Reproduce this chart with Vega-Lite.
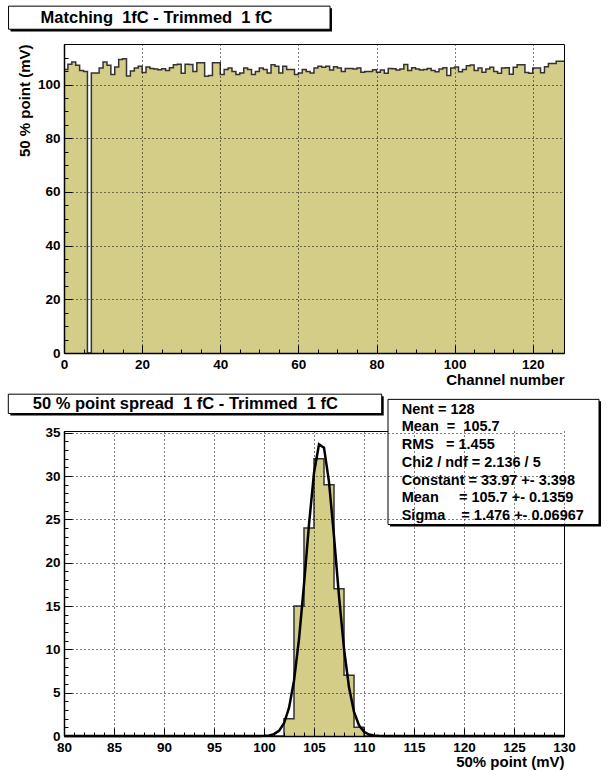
{
  "$schema": "https://vega.github.io/schema/vega-lite/v6.json",
  "autosize": {"type": "pad"},
  "padding": {"left": 7, "top": 5, "right": 5, "bottom": 2},
  "background": "white",
  "spacing": 78,
  "bounds": "flush",
  "config": {
    "font": "Liberation Sans",
    "view": {"stroke": "black", "strokeWidth": 1},
    "axis": {
      "labelFont": "Liberation Sans", "labelFontWeight": "bold", "labelFontSize": 13.5, "labelColor": "black",
      "titleFont": "Liberation Sans", "titleFontWeight": "bold", "titleFontSize": 15, "titleColor": "black",
      "domainColor": "black", "domainWidth": 1.5, "tickColor": "black", "tickSize": -8, "tickWidth": 1,
      "gridColor": "black", "gridDash": [1, 3], "gridWidth": 1, "gridOpacity": 1, "labelPadding": 12, "labelOverlap": false
    }
  },
  "datasets": {
    "channels": [
      {"channel": 0, "v": 105.6}, {"channel": 1, "v": 107.6}, {"channel": 2, "v": 108.4}, {"channel": 3, "v": 107.2},
      {"channel": 4, "v": 105.2}, {"channel": 5, "v": 104.9}, {"channel": 6, "v": 0}, {"channel": 7, "v": 104.3},
      {"channel": 8, "v": 104.3}, {"channel": 9, "v": 106.2}, {"channel": 10, "v": 108.4}, {"channel": 11, "v": 107.2},
      {"channel": 12, "v": 103.7}, {"channel": 13, "v": 106.5}, {"channel": 14, "v": 109.3}, {"channel": 15, "v": 109.6},
      {"channel": 16, "v": 103.2}, {"channel": 17, "v": 105.0}, {"channel": 18, "v": 106.2}, {"channel": 19, "v": 106.8},
      {"channel": 20, "v": 104.5}, {"channel": 21, "v": 106.5}, {"channel": 22, "v": 106.0}, {"channel": 23, "v": 105.8},
      {"channel": 24, "v": 105.5}, {"channel": 25, "v": 105.9}, {"channel": 26, "v": 105.2}, {"channel": 27, "v": 106.3},
      {"channel": 28, "v": 107.4}, {"channel": 29, "v": 107.6}, {"channel": 30, "v": 104.2}, {"channel": 31, "v": 107.6},
      {"channel": 32, "v": 107.5}, {"channel": 33, "v": 104.9}, {"channel": 34, "v": 108.1}, {"channel": 35, "v": 108.1},
      {"channel": 36, "v": 103.1}, {"channel": 37, "v": 103.4}, {"channel": 38, "v": 108.1}, {"channel": 39, "v": 108.1},
      {"channel": 40, "v": 103.7}, {"channel": 41, "v": 105.6}, {"channel": 42, "v": 106.2}, {"channel": 43, "v": 104.9},
      {"channel": 44, "v": 103.7}, {"channel": 45, "v": 104.3}, {"channel": 46, "v": 106.2}, {"channel": 47, "v": 105.6},
      {"channel": 48, "v": 103.7}, {"channel": 49, "v": 104.9}, {"channel": 50, "v": 106.2}, {"channel": 51, "v": 105.6},
      {"channel": 52, "v": 104.3}, {"channel": 53, "v": 107.4}, {"channel": 54, "v": 106.8}, {"channel": 55, "v": 104.3},
      {"channel": 56, "v": 106.8}, {"channel": 57, "v": 105.6}, {"channel": 58, "v": 105.6}, {"channel": 59, "v": 103.7},
      {"channel": 60, "v": 104.3}, {"channel": 61, "v": 105.6}, {"channel": 62, "v": 104.9}, {"channel": 63, "v": 104.3},
      {"channel": 64, "v": 106.2}, {"channel": 65, "v": 106.8}, {"channel": 66, "v": 106.4}, {"channel": 67, "v": 106.8},
      {"channel": 68, "v": 105.4}, {"channel": 69, "v": 106.6}, {"channel": 70, "v": 106.2}, {"channel": 71, "v": 104.9},
      {"channel": 72, "v": 106.0}, {"channel": 73, "v": 106.0}, {"channel": 74, "v": 105.8}, {"channel": 75, "v": 106.2},
      {"channel": 76, "v": 104.6}, {"channel": 77, "v": 104.9}, {"channel": 78, "v": 104.9}, {"channel": 79, "v": 105.5},
      {"channel": 80, "v": 104.6}, {"channel": 81, "v": 105.4}, {"channel": 82, "v": 104.2}, {"channel": 83, "v": 106.0},
      {"channel": 84, "v": 105.9}, {"channel": 85, "v": 105.4}, {"channel": 86, "v": 105.8}, {"channel": 87, "v": 107.5},
      {"channel": 88, "v": 105.2}, {"channel": 89, "v": 106.3}, {"channel": 90, "v": 105.8}, {"channel": 91, "v": 105.4},
      {"channel": 92, "v": 105.6}, {"channel": 93, "v": 106.0}, {"channel": 94, "v": 105.2}, {"channel": 95, "v": 104.8},
      {"channel": 96, "v": 105.8}, {"channel": 97, "v": 106.3}, {"channel": 98, "v": 103.4}, {"channel": 99, "v": 106.2},
      {"channel": 100, "v": 106.5}, {"channel": 101, "v": 104.8}, {"channel": 102, "v": 105.6}, {"channel": 103, "v": 107.0},
      {"channel": 104, "v": 107.3}, {"channel": 105, "v": 105.2}, {"channel": 106, "v": 106.2}, {"channel": 107, "v": 104.6},
      {"channel": 108, "v": 105.8}, {"channel": 109, "v": 106.4}, {"channel": 110, "v": 104.9}, {"channel": 111, "v": 104.2},
      {"channel": 112, "v": 106.2}, {"channel": 113, "v": 106.3}, {"channel": 114, "v": 103.8}, {"channel": 115, "v": 106.4},
      {"channel": 116, "v": 107.4}, {"channel": 117, "v": 107.4}, {"channel": 118, "v": 104.5}, {"channel": 119, "v": 104.2},
      {"channel": 120, "v": 106.2}, {"channel": 121, "v": 106.2}, {"channel": 122, "v": 104.4}, {"channel": 123, "v": 106.6},
      {"channel": 124, "v": 107.8}, {"channel": 125, "v": 107.8}, {"channel": 126, "v": 108.7}, {"channel": 127, "v": 108.7},
      {"channel": 128, "v": 108.7}
    ],
    "spread": [
      {"lo": 80, "n": 0}, {"lo": 102, "n": 2}, {"lo": 103, "n": 15}, {"lo": 104, "n": 24}, {"lo": 105, "n": 32},
      {"lo": 106, "n": 29}, {"lo": 107, "n": 17}, {"lo": 108, "n": 7}, {"lo": 109, "n": 1}, {"lo": 110, "n": 0}, {"lo": 130, "n": 0}
    ],
    "fit": [
      {"x": 80, "g": 0}, {"x": 98, "g": 0.00004}, {"x": 98.5, "g": 0.0002}, {"x": 99, "g": 0.0011}, {"x": 99.5, "g": 0.005},
      {"x": 100, "g": 0.0196}, {"x": 100.5, "g": 0.0685}, {"x": 101, "g": 0.2134}, {"x": 101.5, "g": 0.593},
      {"x": 102, "g": 1.467}, {"x": 102.5, "g": 3.24}, {"x": 103, "g": 6.376}, {"x": 103.5, "g": 11.19},
      {"x": 104, "g": 17.5}, {"x": 104.5, "g": 24.41}, {"x": 105, "g": 30.36}, {"x": 105.5, "g": 33.66},
      {"x": 106, "g": 33.28}, {"x": 106.5, "g": 29.33}, {"x": 107, "g": 23.05}, {"x": 107.5, "g": 16.15},
      {"x": 108, "g": 10.09}, {"x": 108.5, "g": 5.619}, {"x": 109, "g": 2.79}, {"x": 109.5, "g": 1.236},
      {"x": 110, "g": 0.488}, {"x": 110.5, "g": 0.1716}, {"x": 111, "g": 0.0538}, {"x": 111.5, "g": 0.0151},
      {"x": 112, "g": 0.0038}, {"x": 112.5, "g": 0.0008}, {"x": 113, "g": 0.0001}, {"x": 130, "g": 0}
    ]
  },
  "vconcat": [
    {
      "width": 500,
      "height": 309,
      "resolve": {"axis": {"x": "independent", "y": "independent"}},
      "layer": [
        {
          "data": {"name": "channels"},
          "mark": {"type": "area", "interpolate": "step-after", "fill": "#d4cd88"},
          "encoding": {
            "x": {
              "field": "channel", "type": "quantitative", "title": "Channel number",
              "scale": {"domain": [0, 128], "nice": false, "zero": false},
              "axis": {"orient": "bottom", "values": [0, 20, 40, 60, 80, 100, 120], "format": "d", "grid": true, "zindex": 1, "titleAnchor": "end", "titlePadding": 2, "labelFlush": false}
            },
            "y": {
              "field": "v", "type": "quantitative", "title": "50 % point (mV)",
              "scale": {"domain": [0, 115.1], "nice": false},
              "axis": {"orient": "left", "values": [0, 20, 40, 60, 80, 100], "grid": true, "zindex": 1, "titleAnchor": "end", "titlePadding": 5}
            }
          }
        },
        {
          "data": {"name": "channels"},
          "mark": {"type": "line", "interpolate": "step-after", "stroke": "#333333", "strokeWidth": 1.5},
          "encoding": {
            "x": {"field": "channel", "type": "quantitative", "axis": {"orient": "bottom", "values": [5, 10, 15, 25, 30, 35, 45, 50, 55, 65, 70, 75, 85, 90, 95, 105, 110, 115, 125], "labels": false, "domain": false, "grid": false, "tickSize": -4, "title": null, "zindex": 1}},
            "y": {"field": "v", "type": "quantitative", "axis": {"orient": "left", "values": [5, 10, 15, 25, 30, 35, 45, 50, 55, 65, 70, 75, 85, 90, 95, 105, 110, 115], "labels": false, "domain": false, "grid": false, "tickSize": -4, "title": null, "zindex": 1}}
          }
        },
        {
          "data": {"values": [{}]},
          "mark": {"type": "rect", "fill": "black", "clip": false},
          "encoding": {
            "x": {"datum": -13.7, "type": "quantitative", "axis": null}, "x2": {"datum": 68.6},
            "y": {"datum": 128.4, "type": "quantitative", "axis": null}, "y2": {"datum": 119.8}
          }
        },
        {
          "data": {"values": [{}]},
          "mark": {"type": "rect", "fill": "white", "stroke": "black", "strokeWidth": 1, "clip": false},
          "encoding": {
            "x": {"datum": -14.2, "type": "quantitative", "axis": null}, "x2": {"datum": 68.1},
            "y": {"datum": 129.2, "type": "quantitative", "axis": null}, "y2": {"datum": 120.6}
          }
        },
        {
          "data": {"values": [{}]},
          "mark": {"type": "text", "text": "Matching\u00a0 1fC - Trimmed\u00a0 1 fC", "font": "Liberation Sans", "fontWeight": "bold", "fontSize": 16.5, "align": "left", "baseline": "middle", "clip": false},
          "encoding": {
            "x": {"datum": -6.0, "type": "quantitative", "axis": null},
            "y": {"datum": 124.9, "type": "quantitative", "axis": null}
          }
        }
      ]
    },
    {
      "width": 500,
      "height": 305,
      "resolve": {"axis": {"x": "independent", "y": "independent"}},
      "layer": [
        {
          "data": {"name": "spread"},
          "mark": {"type": "area", "interpolate": "step-after", "fill": "#d4cd88"},
          "encoding": {
            "x": {
              "field": "lo", "type": "quantitative", "title": "50% point (mV)",
              "scale": {"domain": [80, 130], "nice": false, "zero": false},
              "axis": {"orient": "bottom", "values": [80, 85, 90, 95, 100, 105, 110, 115, 120, 125, 130], "format": "d", "grid": true, "zindex": 1, "titleAnchor": "end", "titlePadding": 1, "labelFlush": false}
            },
            "y": {
              "field": "n", "type": "quantitative", "title": null,
              "scale": {"domain": [0, 35.2], "nice": false},
              "axis": {"orient": "left", "values": [0, 5, 10, 15, 20, 25, 30, 35], "grid": true, "zindex": 1}
            }
          }
        },
        {
          "data": {"name": "spread"},
          "mark": {"type": "line", "interpolate": "step-after", "stroke": "#333333", "strokeWidth": 1.5},
          "encoding": {
            "x": {"field": "lo", "type": "quantitative", "axis": {"orient": "bottom", "values": [81, 82, 83, 84, 86, 87, 88, 89, 91, 92, 93, 94, 96, 97, 98, 99, 101, 102, 103, 104, 106, 107, 108, 109, 111, 112, 113, 114, 116, 117, 118, 119, 121, 122, 123, 124, 126, 127, 128, 129], "labels": false, "domain": false, "grid": false, "tickSize": -4, "title": null, "zindex": 1}},
            "y": {"field": "n", "type": "quantitative", "axis": {"orient": "left", "values": [1, 2, 3, 4, 6, 7, 8, 9, 11, 12, 13, 14, 16, 17, 18, 19, 21, 22, 23, 24, 26, 27, 28, 29, 31, 32, 33, 34], "labels": false, "domain": false, "grid": false, "tickSize": -4, "title": null, "zindex": 1}}
          }
        },
        {
          "data": {"name": "fit"},
          "mark": {"type": "line", "stroke": "black", "strokeWidth": 2.5},
          "encoding": {
            "x": {"field": "x", "type": "quantitative", "axis": null},
            "y": {"field": "g", "type": "quantitative", "axis": null}
          }
        },
        {
          "data": {"values": [{}]},
          "mark": {"type": "rect", "fill": "black", "clip": false},
          "encoding": {
            "x": {"datum": 74.63, "type": "quantitative", "axis": null}, "x2": {"datum": 111.97},
            "y": {"datum": 39.22, "type": "quantitative", "axis": null}, "y2": {"datum": 36.99}
          }
        },
        {
          "data": {"values": [{}]},
          "mark": {"type": "rect", "fill": "white", "stroke": "black", "strokeWidth": 1, "clip": false},
          "encoding": {
            "x": {"datum": 74.43, "type": "quantitative", "axis": null}, "x2": {"datum": 111.77},
            "y": {"datum": 39.45, "type": "quantitative", "axis": null}, "y2": {"datum": 37.22}
          }
        },
        {
          "data": {"values": [{}]},
          "mark": {"type": "text", "text": "50 % point spread\u00a0 1 fC - Trimmed\u00a0 1 fC", "font": "Liberation Sans", "fontWeight": "bold", "fontSize": 16.5, "align": "left", "baseline": "middle", "clip": false},
          "encoding": {
            "x": {"datum": 76.87, "type": "quantitative", "axis": null},
            "y": {"datum": 38.26, "type": "quantitative", "axis": null}
          }
        },
        {
          "data": {"values": [{}]},
          "mark": {"type": "rect", "fill": "black", "clip": false},
          "encoding": {
            "x": {"datum": 112.6, "type": "quantitative", "axis": null}, "x2": {"datum": 133.7},
            "y": {"datum": 38.62, "type": "quantitative", "axis": null}, "y2": {"datum": 24.18}
          }
        },
        {
          "data": {"values": [{}]},
          "mark": {"type": "rect", "fill": "white", "stroke": "black", "strokeWidth": 1, "clip": false},
          "encoding": {
            "x": {"datum": 112.4, "type": "quantitative", "axis": null}, "x2": {"datum": 133.5},
            "y": {"datum": 38.85, "type": "quantitative", "axis": null}, "y2": {"datum": 24.41}
          }
        },
        {
          "data": {"values": [{}]},
          "mark": {"type": "text", "text": ["Nent = 128", "Mean\u00a0 =\u00a0 105.7", "RMS\u00a0 \u00a0= 1.455", "Chi2 / ndf = 2.136 / 5", "Constant = 33.97 +- 3.398", "Mean\u00a0 \u00a0 \u00a0= 105.7 +- 0.1359", "Sigma\u00a0 \u00a0 = 1.476 +- 0.06967"], "font": "Liberation Sans", "fontWeight": "bold", "fontSize": 14.5, "lineHeight": 17.7, "align": "left", "baseline": "middle", "clip": false},
          "encoding": {
            "x": {"datum": 113.77, "type": "quantitative", "axis": null},
            "y": {"datum": 37.65, "type": "quantitative", "axis": null}
          }
        }
      ]
    }
  ]
}
